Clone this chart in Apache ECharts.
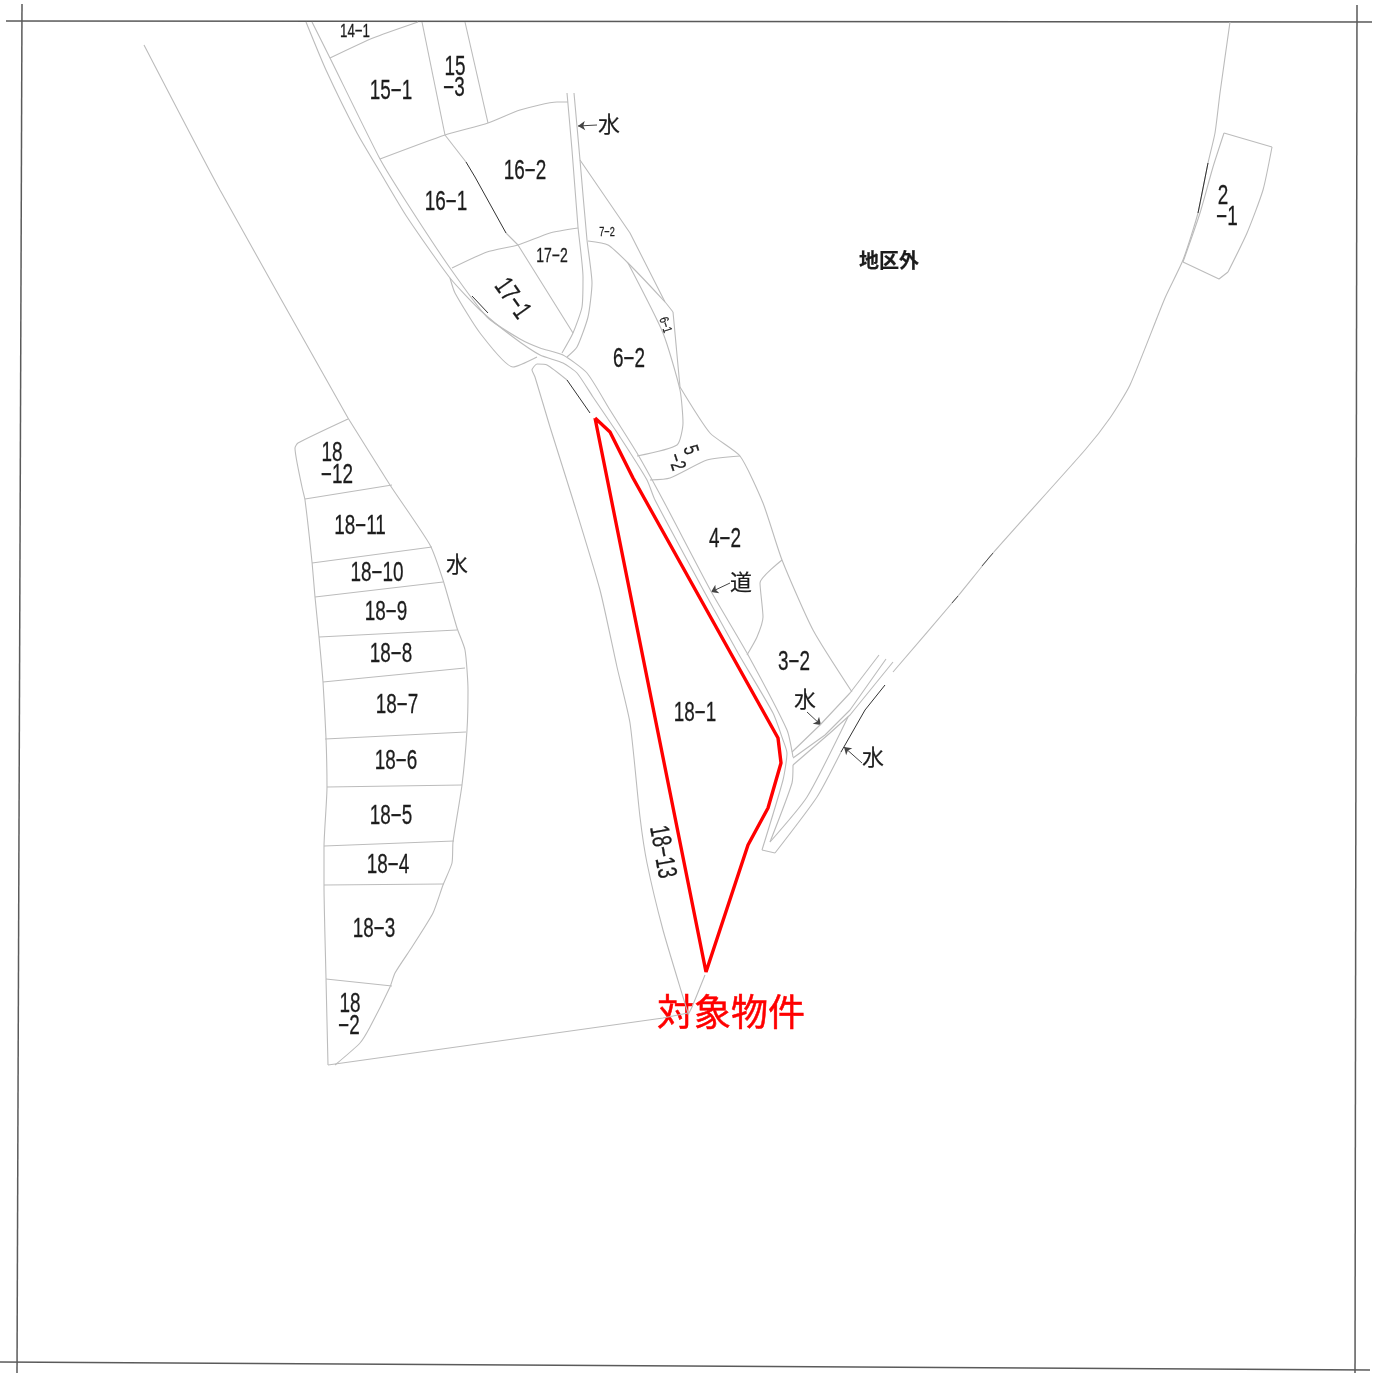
<!DOCTYPE html>
<html><head><meta charset="utf-8">
<style>html,body{margin:0;padding:0;background:#fff}#c{width:1378px;height:1373px}</style>
<script src="https://cdn.jsdelivr.net/npm/echarts@6/dist/echarts.min.js"></script>
</head><body><div id="c"></div>
<script>
// Map coordinates
const frameLines = [
  [[6,21],[1372,22]], [[22,4],[17,1373]], [[0,1362],[1370,1370]], [[1357,5],[1355,1373]]
];
const boundaryCurves = [
  // west road, both edges, continuing south-east
  [[306,22],[326,70],[357,133],[380,172],[407,217],[450,278],[480,310],[513,337],[540,355],[563,363],[577,373],[593,397],[620,437],[647,480],[655,500],[705,593],[738,653],[773,713],[783,740],[787,753],[783,780],[762,850]],
  [[312,22],[330,58],[380,159],[407,203],[450,268],[487,317],[520,339],[540,348],[563,355],[587,373],[610,410],[637,453],[663,500],[712,593],[747,653],[787,730],[793,757]],
  // north channel
  [[567,93],[572,150],[578,227],[583,277],[582,307],[573,333],[562,353]],
  [[574,93],[580,160],[587,240],[592,283],[588,317],[577,347],[567,357]],
  // 18-13 west edge
  [[567,380],[547,365],[537,364],[532,370],[535,377],[550,427],[573,500],[600,590],[617,667],[630,723],[640,817],[647,863],[663,930],[683,997],[688,1013]],
  [[705,975],[692,1007],[688,1015]],
  // west long boundary
  [[144,45],[220,190],[348,418]],
  [[348,418],[390,485],[430,545],[443,580],[457,628],[465,650],[468,690],[467,730],[462,785],[453,842],[452,863],[443,885],[433,913],[412,947],[395,973],[390,987],[370,1027],[360,1043],[335,1065]],
  [[348,419],[298,443],[295,448],[302,487],[305,500],[312,562],[315,597],[319,637],[323,682],[326,738],[327,787],[324,847],[324,885],[326,978],[328,1065]],
  // east parcels
  [[588,241],[608,245],[628,263],[665,302],[673,312]],
  [[628,263],[663,333],[680,390],[683,423],[677,445],[637,456]],
  [[650,480],[670,478],[707,460],[740,456]],
  [[782,560],[760,583],[763,617],[757,637],[747,655]],
  [[680,387],[710,433],[740,456],[763,503],[782,560],[813,630],[852,692]],
  // north-east boundary
  [[1230,22],[1220,93],[1215,133],[1208,163],[1198,213],[1183,260],[1165,298],[1130,385],[1110,418],[1085,450],[993,553],[958,596],[893,672]],
  [[1228,272],[1247,233],[1263,190],[1272,147]],
  [[1224,133],[1213,167],[1200,213],[1183,262]],
  // upper parcels
  [[380,159],[445,135],[488,123],[520,110],[557,102],[568,102]],
  [[330,58],[373,38],[418,22]],
  [[452,268],[487,252],[518,245],[550,233],[578,228]],
  // south-east strip
  [[793,765],[792,783],[770,842]],
  [[770,842],[807,797],[848,717]],
  [[775,853],[817,797],[841,752]],
  // pocket below 17-1
  [[450,278],[455,293],[480,333],[513,367],[537,357]]
];
const boundaryLines = [
  [[422,22],[445,135]], [[465,22],[488,123]], [[445,135],[466,162]],
  [[506,233],[518,245],[573,333]],
  [[580,160],[630,233],[665,302]], [[673,312],[680,387]],
  [[1224,133],[1272,147]], [[1183,262],[1219,279],[1228,272]],
  [[305,499],[392,485]], [[312,563],[432,547]], [[315,597],[443,582]], [[319,637],[457,630]],
  [[323,682],[465,668]], [[325,739],[466,732]], [[327,787],[462,785]], [[324,846],[454,841]],
  [[324,885],[444,884]], [[326,979],[392,986]],
  [[328,1065],[663,1018],[688,1013]],
  [[792,752],[820,725],[850,693],[879,655]],
  [[793,758],[825,735],[850,710],[886,659]],
  [[793,765],[830,733],[850,715],[893,662]],
  [[762,850],[775,853]]
];
const darkSegments = [
  [[466,162],[475,177],[506,233]],
  [[472,296],[488,313]],
  [[567,380],[590,413]],
  [[841,752],[865,710],[885,685]],
  [[1208,163],[1198,213]]
];
const faintDarkSegments = [
  [[958,596],[952,603]],
  [[993,553],[982,566]]
];
const targetParcel = [[595,418],[610,432],[633,478],[778,738],[781,763],[768,808],[748,845],[706,972],[595,418]];
const leaders = [
  [[597,125],[578,126]], [[730,583],[711,592]], [[807,712],[821,725]], [[862,763],[844,747]]
];
const labelTexts = ['14−1','15−1','15','−3','16−2','16−1','17−2','7−2','17−1','6−1','6−2','5','−2','4−2','道','3−2','水','水','水','水','地区外','18−1','18−13','2','−1','18','−12','18−11','18−10','18−9','18−8','18−7','18−6','18−5','18−4','18−3','18','−2','対象物件'];
const labelXs = [355,391,455,454,525,446,552,607,512,665,629,690,676,725,741,794,805,873,609,457,889,695,662,1223,1227,332,337,360,377,386,391,397,396,391,388,374,350,349,731];
const labelYs = [32,92,68,89,172,203,256,232,299,325,360,450,462,540,582,663,699,757,124,564,260,714,852,197,218,454,476,527,574,613,655,706,762,817,866,930,1005,1027,1012];
// Text presentation
const labelRotations = [0,0,0,0,0,0,0,0,-55,-72,0,-72,-72,0,0,0,0,0,0,0,0,0,-80,0,0,0,0,0,0,0,0,0,0,0,0,0,0,0,0];
const labelSizes = [19,27,27,27,27,27,20,13,27,13,27,21,21,27,22,27,22,22,22,22,20,27,27,27,27,27,27,27,27,27,27,27,27,27,27,27,27,27,37];

const strokeSeries = (lines, color, width, smooth) => lines.map(l => ({
  type:'line', data:l, showSymbol:false, symbol:'none', silent:true, smooth:smooth,
  lineStyle:{color:color,width:width}, clip:false, animation:false
}));
const isCjk = t => /[\u3000-\u9fff]/.test(t);

const chart = echarts.init(document.getElementById('c'), null, {renderer:'canvas'});
chart.setOption({
  animation:false, backgroundColor:'#ffffff',
  grid:{left:0,right:0,top:0,bottom:0},
  xAxis:{type:'value',min:0,max:1378,show:false},
  yAxis:{type:'value',min:0,max:1373,inverse:true,show:false},
  series:[
    ...strokeSeries(frameLines,'#5a5a5a',1.5,false),
    ...strokeSeries(boundaryCurves,'#bcbcbc',1.1,0.2),
    ...strokeSeries(boundaryLines,'#bcbcbc',1.1,false),
    ...strokeSeries(darkSegments,'#333333',1,false),
    ...strokeSeries(faintDarkSegments,'#555555',1,false),
    ...strokeSeries([targetParcel],'#ff0000',3.4,false),
    {type:'lines',coordinateSystem:'cartesian2d',silent:true,symbol:['none','arrow'],symbolSize:7,
     lineStyle:{color:'#444444',width:1,opacity:1},
     data:leaders.map(c=>({coords:c}))},
    {type:'custom',coordinateSystem:'cartesian2d',silent:true,clip:false,
     data:labelTexts.map((t,i)=>[labelXs[i],labelYs[i],i]),
     renderItem:(params,api)=>{
       const i=api.value(2), t=labelTexts[i], p=api.coord([api.value(0),api.value(1)]);
       const cjk=isCjk(t), target=t==='対象物件';
       return {type:'text',x:p[0],y:p[1],rotation:labelRotations[i]*Math.PI/180,
         scaleX:cjk?1:0.7,scaleY:1,
         style:{text:t,x:0,y:0,align:'center',verticalAlign:'middle',
           fontFamily:cjk?'"Noto Sans CJK JP",sans-serif':'"Liberation Sans",sans-serif',
           fontSize:labelSizes[i],fontWeight:t==='地区外'?'bold':'normal',
           fill:target?'#ff0000':'#1c1c1c',
           stroke:target?'#ff0000':'#1c1c1c',lineWidth:target?0.5:(cjk?0.2:0.3)}};
     }}
  ]
});
</script></body></html>
